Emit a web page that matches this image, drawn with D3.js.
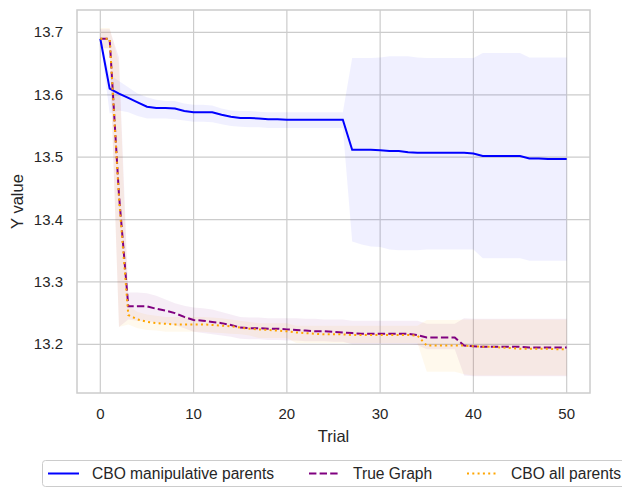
<!DOCTYPE html>
<html>
<head>
<meta charset="utf-8">
<script src="https://cdn.jsdelivr.net/npm/d3@7"></script>
<style>
  body { margin: 0; background: #fff; }
  svg { display: block; font-family: "Liberation Sans", Arial, sans-serif; }
</style>
</head>
<body>
<div id="chart"></div>
<script>
// --- data ---
const trials = d3.range(0, 51);
const xTicks = [0, 10, 20, 30, 40, 50];
const yTicks = [13.2, 13.3, 13.4, 13.5, 13.6, 13.7];
const seriesNames = ["CBO manipulative parents", "True Graph", "CBO all parents"];

const manipMean = [13.690, 13.610, 13.602, 13.595, 13.588, 13.581, 13.579, 13.579, 13.578, 13.574,
  13.572, 13.572, 13.572, 13.568, 13.565, 13.563, 13.563, 13.562, 13.561, 13.561,
  13.560, 13.560, 13.560, 13.560, 13.560, 13.560, 13.560, 13.512, 13.512, 13.512,
  13.511, 13.510, 13.510, 13.508, 13.507, 13.507, 13.507, 13.507, 13.507, 13.507,
  13.506, 13.502, 13.502, 13.502, 13.502, 13.502, 13.498, 13.498, 13.497, 13.497, 13.497];
const manipUpper = [13.692, 13.632, 13.622, 13.612, 13.602, 13.596, 13.592, 13.590, 13.590, 13.586,
  13.584, 13.584, 13.583, 13.578, 13.575, 13.574, 13.574, 13.573, 13.572, 13.572,
  13.572, 13.572, 13.572, 13.572, 13.572, 13.572, 13.572, 13.659, 13.659, 13.659,
  13.660, 13.662, 13.662, 13.662, 13.660, 13.659, 13.659, 13.659, 13.659, 13.659,
  13.659, 13.667, 13.667, 13.667, 13.667, 13.667, 13.660, 13.660, 13.660, 13.660, 13.660];
const manipLower = [13.688, 13.570, 13.575, 13.572, 13.566, 13.562, 13.562, 13.562, 13.561, 13.559,
  13.557, 13.557, 13.556, 13.553, 13.550, 13.549, 13.548, 13.548, 13.547, 13.547,
  13.547, 13.547, 13.547, 13.547, 13.547, 13.547, 13.547, 13.365, 13.360, 13.357,
  13.356, 13.352, 13.351, 13.351, 13.351, 13.352, 13.352, 13.352, 13.352, 13.352,
  13.352, 13.338, 13.338, 13.338, 13.338, 13.338, 13.334, 13.334, 13.334, 13.334, 13.334];

const trueMean = [13.690, 13.690, 13.440, 13.261, 13.261, 13.261, 13.257, 13.254, 13.250, 13.244,
  13.239, 13.238, 13.236, 13.234, 13.231, 13.227, 13.226, 13.226, 13.225, 13.225,
  13.224, 13.223, 13.222, 13.221, 13.221, 13.220, 13.219, 13.218, 13.217, 13.217,
  13.217, 13.217, 13.217, 13.217, 13.215, 13.211, 13.211, 13.211, 13.211, 13.198,
  13.197, 13.196, 13.196, 13.196, 13.196, 13.196, 13.195, 13.195, 13.195, 13.195, 13.195];
const trueUpper = [13.705, 13.705, 13.660, 13.283, 13.283, 13.282, 13.278, 13.272, 13.266, 13.262,
  13.259, 13.258, 13.256, 13.252, 13.248, 13.244, 13.243, 13.243, 13.242, 13.242,
  13.242, 13.242, 13.241, 13.241, 13.240, 13.240, 13.240, 13.238, 13.238, 13.238,
  13.238, 13.238, 13.238, 13.238, 13.238, 13.233, 13.233, 13.233, 13.233, 13.242,
  13.241, 13.241, 13.241, 13.241, 13.241, 13.241, 13.241, 13.241, 13.241, 13.241, 13.241];
const trueLower = [13.675, 13.675, 13.228, 13.240, 13.238, 13.238, 13.235, 13.233, 13.231, 13.226,
  13.220, 13.218, 13.216, 13.214, 13.212, 13.209, 13.208, 13.208, 13.207, 13.207,
  13.206, 13.206, 13.205, 13.205, 13.205, 13.204, 13.204, 13.200, 13.200, 13.200,
  13.200, 13.200, 13.200, 13.200, 13.199, 13.192, 13.192, 13.192, 13.192, 13.150,
  13.149, 13.149, 13.149, 13.149, 13.149, 13.149, 13.149, 13.149, 13.149, 13.149, 13.149];

const allMean = [13.690, 13.690, 13.435, 13.247, 13.240, 13.236, 13.234, 13.233, 13.232, 13.232,
  13.232, 13.232, 13.231, 13.230, 13.229, 13.227, 13.225, 13.224, 13.223, 13.222,
  13.221, 13.219, 13.218, 13.217, 13.216, 13.216, 13.216, 13.215, 13.215, 13.215,
  13.215, 13.215, 13.215, 13.215, 13.214, 13.198, 13.198, 13.198, 13.198, 13.198,
  13.197, 13.196, 13.196, 13.195, 13.194, 13.193, 13.193, 13.193, 13.193, 13.192, 13.192];
const allUpper = [13.707, 13.707, 13.650, 13.262, 13.252, 13.248, 13.246, 13.244, 13.244, 13.244,
  13.244, 13.244, 13.243, 13.242, 13.240, 13.238, 13.236, 13.234, 13.234, 13.234,
  13.234, 13.230, 13.230, 13.230, 13.230, 13.230, 13.230, 13.230, 13.230, 13.230,
  13.230, 13.230, 13.230, 13.230, 13.230, 13.239, 13.239, 13.239, 13.239, 13.240,
  13.240, 13.240, 13.240, 13.240, 13.240, 13.240, 13.240, 13.240, 13.240, 13.240, 13.240];
const allLower = [13.673, 13.673, 13.228, 13.232, 13.226, 13.223, 13.222, 13.220, 13.220, 13.220,
  13.220, 13.220, 13.219, 13.218, 13.217, 13.216, 13.214, 13.210, 13.210, 13.210,
  13.210, 13.202, 13.202, 13.202, 13.202, 13.202, 13.202, 13.202, 13.202, 13.202,
  13.202, 13.202, 13.202, 13.202, 13.202, 13.156, 13.156, 13.156, 13.156, 13.152,
  13.150, 13.150, 13.150, 13.150, 13.150, 13.150, 13.150, 13.150, 13.150, 13.150, 13.150];

// --- layout ---
const W = 622, H = 487;
const plot = { left: 77, right: 590, top: 10, bottom: 393 };
const gridColor = "#cccccc";
const textColor = "#262626";

const svg = d3.select("#chart").append("svg")
    .attr("width", W)
    .attr("height", H);

const x = d3.scaleLinear().domain([-2.5, 52.5]).range([plot.left, plot.right]);
const y = d3.scaleLinear().domain([13.122, 13.736]).range([plot.bottom, plot.top]);

// grid lines
svg.append("g").selectAll("line.vx")
    .data(xTicks).enter().append("line")
    .attr("x1", d => x(d)).attr("x2", d => x(d))
    .attr("y1", plot.top).attr("y2", plot.bottom)
    .attr("stroke", gridColor).attr("stroke-width", 1.2);
svg.append("g").selectAll("line.hy")
    .data(yTicks).enter().append("line")
    .attr("x1", plot.left).attr("x2", plot.right)
    .attr("y1", d => y(d)).attr("y2", d => y(d))
    .attr("stroke", gridColor).attr("stroke-width", 1.2);

// one entry per series
const series = [
  { name: seriesNames[0], color: "blue",   alpha: 0.06, dash: null,      mean: manipMean, upper: manipUpper, lower: manipLower },
  { name: seriesNames[1], color: "purple", alpha: 0.07, dash: "7.4,3.2", mean: trueMean,  upper: trueUpper,  lower: trueLower },
  { name: seriesNames[2], color: "orange", alpha: 0.07, dash: "2,3.3",   mean: allMean,   upper: allUpper,   lower: allLower }
];

const area = d3.area()
    .x(d => x(d.t))
    .y0(d => y(d.lo))
    .y1(d => y(d.hi));
const line = d3.line()
    .x(d => x(d.t))
    .y(d => y(d.v));

const plotG = svg.append("g");
series.forEach(s => {
  const rows = trials.map((t, i) => ({ t: t, v: s.mean[i], lo: s.lower[i], hi: s.upper[i] }));
  plotG.append("path")
      .attr("d", area(rows))
      .attr("fill", s.color)
      .attr("fill-opacity", s.alpha);
  s.rows = rows;
});
series.forEach(s => {
  plotG.append("path")
      .attr("d", line(s.rows))
      .attr("fill", "none")
      .attr("stroke", s.color)
      .attr("stroke-width", 2)
      .attr("stroke-dasharray", s.dash);
});

// frame
svg.append("rect")
    .attr("x", plot.left).attr("y", plot.top)
    .attr("width", plot.right - plot.left)
    .attr("height", plot.bottom - plot.top)
    .attr("fill", "none")
    .attr("stroke", gridColor)
    .attr("stroke-width", 1.5);

// tick labels
svg.append("g").selectAll("text")
    .data(xTicks).enter().append("text")
    .attr("x", d => x(d))
    .attr("y", 419)
    .attr("text-anchor", "middle")
    .style("font-size", "15px")
    .style("fill", textColor)
    .text(d => d);
svg.append("g").selectAll("text")
    .data(yTicks).enter().append("text")
    .attr("x", 63)
    .attr("y", d => y(d) + 5)
    .attr("text-anchor", "end")
    .style("font-size", "15px")
    .style("fill", textColor)
    .text(d => d.toFixed(1));

// axis titles
svg.append("text")
    .attr("x", (plot.left + plot.right) / 2)
    .attr("y", 442)
    .attr("text-anchor", "middle")
    .style("font-size", "16.5px")
    .style("fill", textColor)
    .text("Trial");
svg.append("text")
    .attr("transform", `translate(23, ${(plot.top + plot.bottom) / 2}) rotate(-90)`)
    .attr("text-anchor", "middle")
    .style("font-size", "16.5px")
    .style("fill", textColor)
    .text("Y value");

// legend (runs off the right edge as in the original)
const legend = svg.append("g");
legend.append("rect")
    .attr("x", 42.5).attr("y", 460.5)
    .attr("width", 620).attr("height", 26)
    .attr("rx", 3)
    .attr("fill", "#fff")
    .attr("stroke", gridColor)
    .attr("stroke-width", 1);
const legendX = [48, 309, 467];
series.forEach((s, i) => {
  legend.append("line")
      .attr("x1", legendX[i]).attr("x2", legendX[i] + 31)
      .attr("y1", 473.5).attr("y2", 473.5)
      .attr("stroke", s.color)
      .attr("stroke-width", 2)
      .attr("stroke-dasharray", s.dash);
  legend.append("text")
      .attr("x", legendX[i] + 44)
      .attr("y", 479)
      .style("font-size", "15.6px")
      .style("fill", textColor)
      .text(s.name);
});
</script>
</body>
</html>
